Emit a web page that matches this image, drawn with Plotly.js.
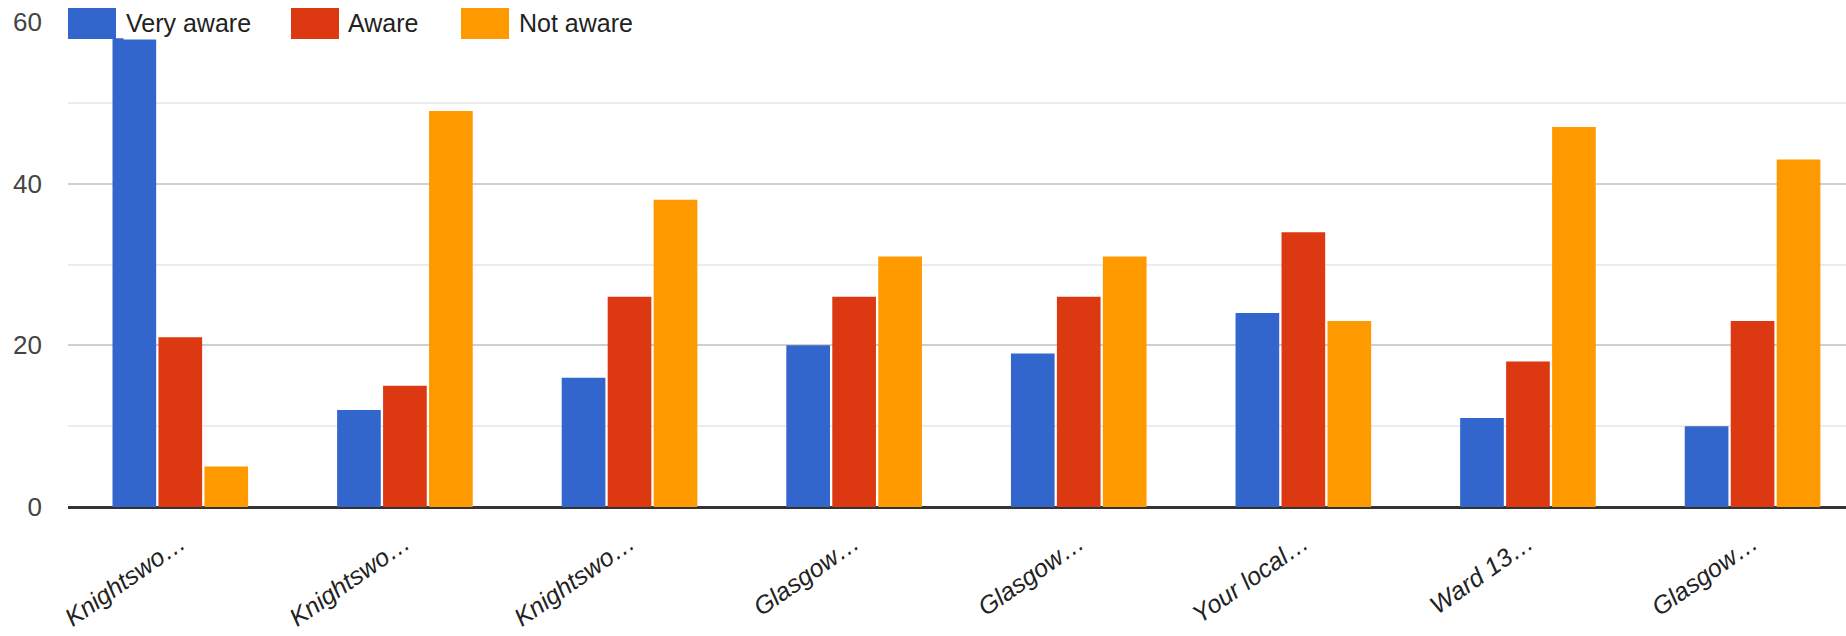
<!DOCTYPE html>
<html>
<head>
<meta charset="utf-8">
<script src="https://cdn.plot.ly/plotly-3.0.1.min.js"></script>
<style>html,body{margin:0;padding:0;background:#fff;}#chart{width:1846px;height:636px;}</style>
</head>
<body>
<div id="chart"></div>
<script>
const categories = ["Knightswo…", "Knightswo…", "Knightswo…", "Glasgow…", "Glasgow…", "Your local…", "Ward 13…", "Glasgow…"];
const seriesNames = ["Very aware", "Aware", "Not aware"];
const veryAware = [58, 12, 16, 20, 19, 24, 11, 10];
const aware = [21, 15, 26, 26, 26, 34, 18, 23];
const notAware = [5, 49, 38, 31, 31, 23, 47, 43];
const yTicks = [0, 20, 40, 60];

const colors = ["#3366cc", "#dc3912", "#ff9900"];
const values = [veryAware, aware, notAware];
const FONT = "Liberation Sans, Arial, sans-serif";
const positions = categories.map((_, i) => i);

const traces = values.map((v, i) => ({
  type: "bar",
  name: seriesNames[i],
  x: positions,
  y: v,
  text: categories,
  textposition: "none",
  marker: {color: colors[i], line: {width: 0}},
  showlegend: false,
  hoverinfo: "text+y+name"
}));

const W = 1846, H = 636;
const L = 68, R = W, T = 22, B = 507;
const px = x => (x - L) / (R - L);
const py = y => (B - y) / (B - T);

const legendItems = [
  {sq: [68, 116], tx: 123},
  {sq: [291, 339], tx: 345},
  {sq: [461, 509], tx: 516}
];
const shapes = legendItems.map((it, i) => ({
  type: "rect", xref: "paper", yref: "paper", layer: "above",
  x0: px(it.sq[0]), x1: px(it.sq[1]), y0: py(39), y1: py(8),
  fillcolor: colors[i], line: {width: 0}
}));
const annotations = legendItems.map((it, i) => ({
  xref: "paper", yref: "paper", x: px(it.tx), y: py(23),
  xanchor: "left", yanchor: "middle", showarrow: false,
  text: seriesNames[i], bgcolor: "#ffffff", borderpad: 2,
  font: {family: FONT, size: 25, color: "#222222"}
}));

const layout = {
  width: W, height: H,
  margin: {l: L, r: 0, t: T, b: H - B},
  paper_bgcolor: "#ffffff", plot_bgcolor: "#ffffff",
  barmode: "group", bargap: 0.386, bargroupgap: 0.05,
  showlegend: false,
  xaxis: {
    type: "linear",
    range: [-0.5, 7.416],
    tickmode: "array",
    tickvals: positions,
    ticktext: categories,
    tickangle: -35,
    tickfont: {family: FONT, size: 25, color: "#222222", style: "italic"},
    showgrid: false, zeroline: false, showline: false, ticks: "",
    ticklabelstandoff: 16
  },
  yaxis: {
    range: [0, 60],
    tickvals: yTicks,
    ticktext: yTicks.map(String),
    tickfont: {family: FONT, size: 26, color: "#444444"},
    showgrid: true, gridcolor: "#cfcfcf", gridwidth: 2,
    minor: {dtick: 10, showgrid: true, gridcolor: "#ececec", gridwidth: 2},
    zeroline: true, zerolinecolor: "#333333", zerolinewidth: 3,
    ticks: "", ticklabelstandoff: 25, showline: false
  },
  shapes: shapes,
  annotations: annotations
};

Plotly.newPlot("chart", traces, layout, {displayModeBar: false, staticPlot: true});
</script>
</body>
</html>
